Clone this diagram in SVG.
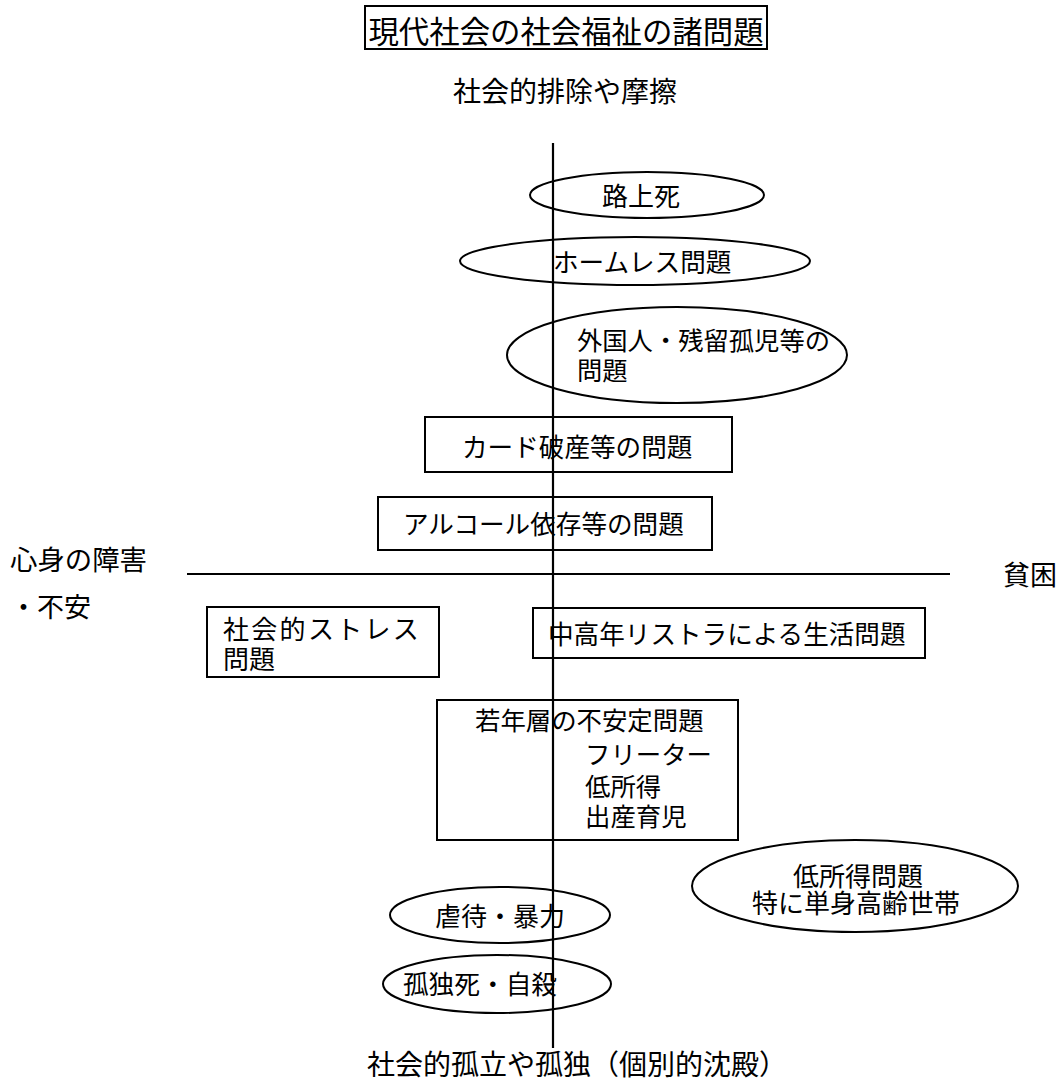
<svg xmlns="http://www.w3.org/2000/svg" width="1061" height="1090" viewBox="0 0 1061 1090">
<style>
text{font-family:"Noto Sans CJK JP","Noto Sans CJK SC",sans-serif;fill:#000;dominant-baseline:central}
.s{fill:none;stroke:#000;stroke-width:2}
.ax{stroke:#000;stroke-width:2.2;fill:none}
.f{font-size:25.6px}
.m{text-anchor:middle}
</style>
<rect width="1061" height="1090" fill="#fff"/>
<g id="connectors">
<line class="ax" x1="553" y1="143" x2="553" y2="1048"/>
<line class="ax" x1="187" y1="574" x2="950" y2="574"/>
</g>
<g id="title">
<rect class="s" x="365" y="6" width="402" height="43" stroke-width="1.5"/>
<text x="566" y="30" class="m" font-size="30.4">現代社会の社会福祉の諸問題</text>
</g>
<g id="label-top"><text x="565" y="90" class="m" font-size="28">社会的排除や摩擦</text></g>
<g id="label-bottom"><text x="577" y="1063" class="m" font-size="28">社会的孤立や孤独（個別的沈殿）</text></g>
<g id="label-left">
<text x="10" y="558" font-size="27.4">心身の障害</text>
<text x="10" y="605" font-size="27">・不安</text>
</g>
<g id="label-right"><text x="1003" y="573" font-size="27">貧困</text></g>
<g id="n-rojoshi">
<ellipse class="s" cx="647" cy="195" rx="117" ry="23"/>
<text x="602" y="194" font-size="26">路上死</text>
</g>
<g id="n-homeless">
<ellipse class="s" cx="635" cy="261" rx="175" ry="24"/>
<text x="553" y="260" class="f">ホームレス問題</text>
</g>
<g id="n-foreign">
<ellipse class="s" cx="677" cy="355" rx="170" ry="48"/>
<text x="577" y="339" font-size="25.3">外国人・残留孤児等の<tspan x="577" dy="30">問題</tspan></text>
</g>
<g id="n-card">
<rect class="s" x="425" y="417" width="307" height="55"/>
<text x="462" y="445" class="f">カード破産等の問題</text>
</g>
<g id="n-alcohol">
<rect class="s" x="378" y="497" width="334" height="53"/>
<text x="403" y="522" class="f">アルコール依存等の問題</text>
</g>
<g id="n-stress">
<rect class="s" x="207" y="607" width="232" height="70"/>
<text x="223" y="627" font-size="26"><tspan letter-spacing="2.3">社会的ストレス</tspan><tspan x="223" dy="30">問題</tspan></text>
</g>
<g id="n-restructure">
<rect class="s" x="533" y="608" width="392" height="50"/>
<text x="548" y="632" class="f">中高年リストラによる生活問題</text>
</g>
<g id="n-youth">
<rect class="s" x="437" y="700" width="301" height="140"/>
<text x="475" y="719" font-size="25.4">若年層の不安定問題<tspan x="585" dy="34">フリーター</tspan><tspan x="585" dy="32">低所得</tspan><tspan x="585" dy="30">出産育児</tspan></text>
</g>
<g id="n-lowincome">
<ellipse class="s" cx="855" cy="886" rx="163" ry="46"/>
<text x="858" y="874" class="m" font-size="26">低所得問題<tspan x="856" dy="27">特に単身高齢世帯</tspan></text>
</g>
<g id="n-abuse">
<ellipse class="s" cx="500" cy="915" rx="110" ry="28"/>
<text x="500" y="914" class="m" font-size="26">虐待・暴力</text>
</g>
<g id="n-lonely">
<ellipse class="s" cx="497" cy="984" rx="114" ry="29"/>
<text x="480" y="982" class="m" font-size="25.7">孤独死・自殺</text>
</g>
</svg>
